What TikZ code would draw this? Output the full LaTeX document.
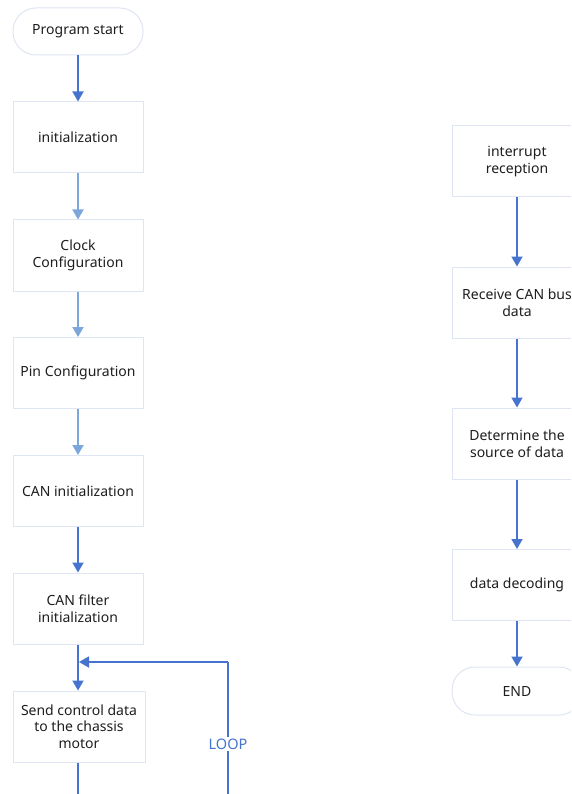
\documentclass[tikz,border=0pt]{standalone}
\usepackage{fontspec}
\setmainfont{Noto Sans}
\usetikzlibrary{arrows.meta}
\definecolor{boxline}{RGB}{223,229,242}
\definecolor{darkarrow}{RGB}{70,115,206}
\definecolor{lightarrow}{RGB}{125,166,218}
\definecolor{txt}{RGB}{30,30,30}
\begin{document}
\begin{tikzpicture}[x=1pt,y=-1pt,
  procbox/.style={draw=boxline,line width=1pt,fill=white,minimum width=130pt,minimum height=71pt,
     align=center,text=txt,font=\fontsize{14}{16.5}\selectfont,inner sep=2pt},
  termbox/.style={procbox,minimum height=47pt,rounded corners=23pt},
  darr/.style={draw=darkarrow,line width=1.8pt,-{Triangle[width=11pt,length=10pt]}},
  larr/.style={draw=lightarrow,line width=1.8pt,-{Triangle[width=11pt,length=10pt]}},
  loopline/.style={draw=darkarrow,line width=1.8pt}]
\useasboundingbox (0,0) rectangle (571,794);
\clip (0,0) rectangle (571,794);
% left column
\node[termbox] (start) at (78,31.5) {Program start};
\node[procbox] (init) at (78,137.5) {initialization};
\node[procbox] (clock) at (78,255.5) {Clock\\Configuration};
\node[procbox] (pin) at (78,373) {Pin Configuration};
\node[procbox] (caninit) at (78,491) {CAN initialization};
\node[procbox] (filter) at (78,608.5) {CAN filter\\initialization};
\node[procbox,minimum width=132pt] (send) at (79,726.5) {Send control data\\to the chassis\\motor};
% right column
\node[procbox] (intr) at (517,161.5) {interrupt\\reception};
\node[procbox] (recv) at (517,302.5) {Receive CAN bus\\data};
\node[procbox] (det) at (517,443.5) {Determine the\\source of data};
\node[procbox] (dec) at (517,585) {data decoding};
\node[termbox,minimum height=48pt] (end) at (517,691) {END};
% arrows left
\draw[darr] (start.south) -- (init.north);
\draw[larr] (init.south) -- (clock.north);
\draw[larr] (clock.south) -- (pin.north);
\draw[larr] (pin.south) -- (caninit.north);
\draw[darr] (caninit.south) -- (filter.north);
\draw[darr] (filter.south) -- (filter.south |- send.north);
% loop
\coordinate (lb1) at (78,800);
\coordinate (lb2) at (228,800);
\coordinate (lt) at (228,662);
\coordinate (lin) at (79,662);
\draw[loopline] (filter.south |- send.south) -- (lb1) -- (lb2) -- (lt);
\draw[darr] (lt) -- (lin);
\node[fill=white,text=darkarrow,font=\fontsize{14.5}{16}\selectfont,inner sep=1.5pt] (loop) at (228,744) {LOOP};
% arrows right
\draw[darr] (intr.south) -- (recv.north);
\draw[darr] (recv.south) -- (det.north);
\draw[darr] (det.south) -- (dec.north);
\draw[darr] (dec.south) -- (end.north);
\end{tikzpicture}
\end{document}
